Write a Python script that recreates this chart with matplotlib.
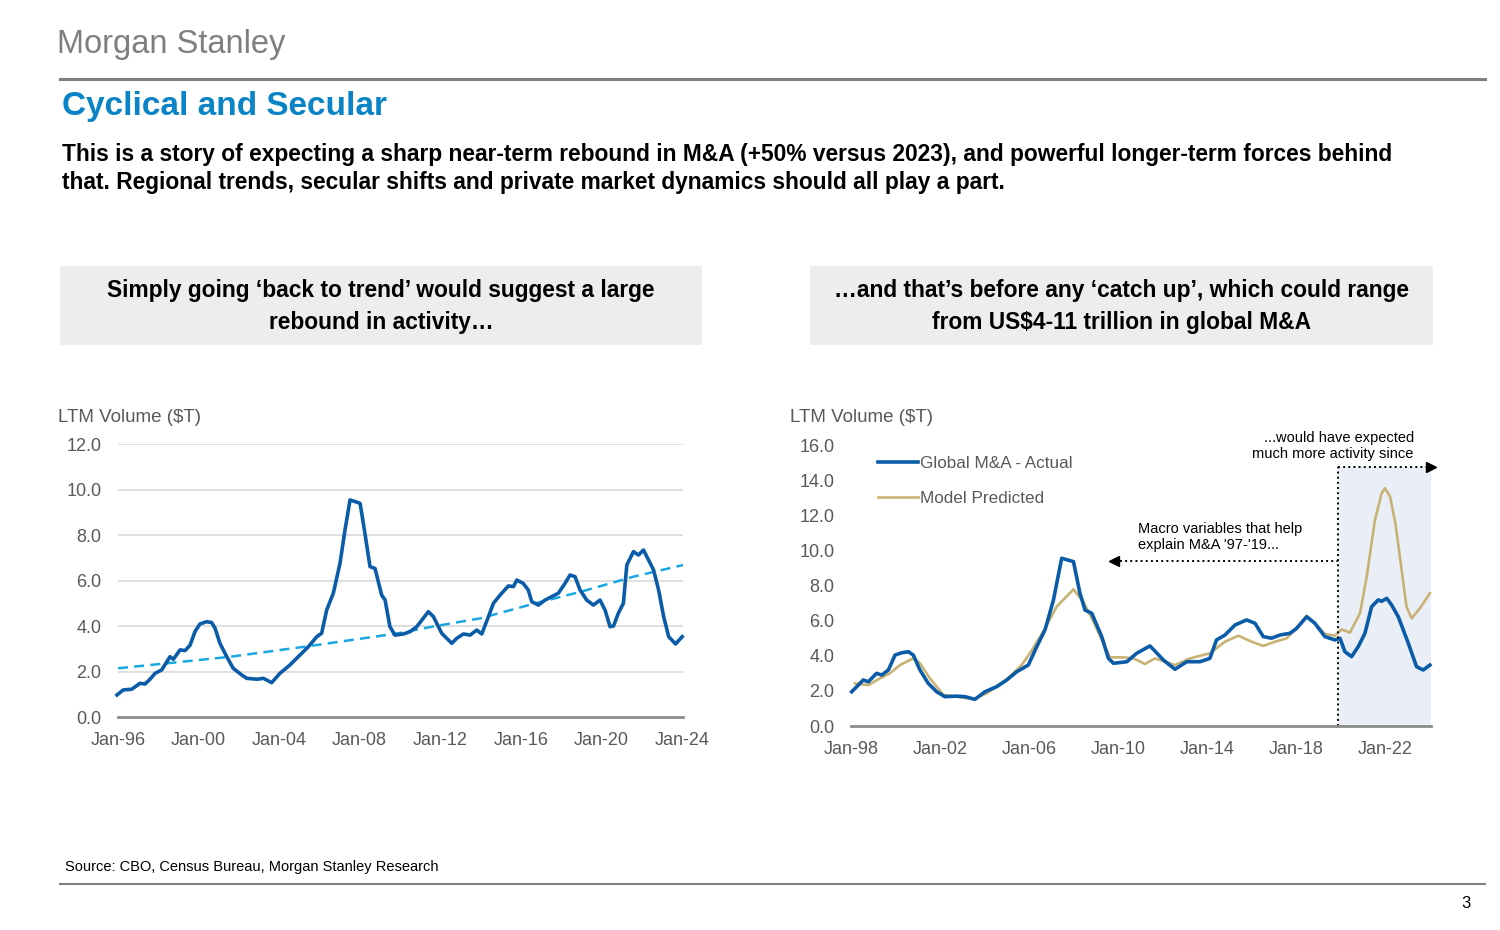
import matplotlib
matplotlib.use("Agg")
import matplotlib.pyplot as plt
from matplotlib.patches import Rectangle

plt.rcParams['font.family'] = ['Liberation Sans', 'DejaVu Sans']

# ---------------- data ----------------
# left chart: global M&A LTM volume ($T), decimal years
LEFT_T = [1995.95, 1996.26, 1996.68, 1997.09, 1997.34, 1997.59, 1997.84, 1998.17, 1998.58, 1998.75,
          1999.08, 1999.33, 1999.58, 1999.82, 2000.07, 2000.4, 2000.65, 2000.82, 2001.06, 2001.4,
          2001.72, 2002.14, 2002.39, 2002.89, 2003.22, 2003.63, 2004.04, 2004.54, 2004.95, 2005.45,
          2005.87, 2006.11, 2006.36, 2006.69, 2007.02, 2007.27, 2007.52, 2007.77, 2008.02, 2008.26,
          2008.51, 2008.76, 2009.09, 2009.26, 2009.5, 2009.75, 2010.17, 2010.5, 2010.83, 2011.41,
          2011.66, 2012.07, 2012.57, 2012.82, 2013.15, 2013.48, 2013.81, 2014.06, 2014.39, 2014.64,
          2014.97, 2015.38, 2015.63, 2015.8, 2016.12, 2016.37, 2016.54, 2016.87, 2017.2, 2017.53,
          2017.86, 2018.19, 2018.44, 2018.69, 2018.94, 2019.27, 2019.6, 2019.93, 2020.18, 2020.43,
          2020.6, 2020.84, 2021.09, 2021.26, 2021.59, 2021.84, 2022.09, 2022.34, 2022.59, 2022.84,
          2023.09, 2023.34, 2023.68, 2024.01]
LEFT_V = [0.97, 1.19, 1.22, 1.48, 1.45, 1.66, 1.92, 2.07, 2.65, 2.54,
          2.95, 2.92, 3.16, 3.75, 4.09, 4.19, 4.15, 3.90, 3.24, 2.65,
          2.14, 1.85, 1.70, 1.66, 1.70, 1.51, 1.92, 2.29, 2.65, 3.09,
          3.53, 3.68, 4.70, 5.44, 6.75, 8.22, 9.54, 9.47, 9.39, 8.07,
          6.61, 6.53, 5.36, 5.14, 3.97, 3.60, 3.65, 3.75, 3.97, 4.63,
          4.41, 3.68, 3.24, 3.46, 3.65, 3.60, 3.82, 3.65, 4.41, 5.00,
          5.36, 5.76, 5.73, 6.02, 5.87, 5.58, 5.07, 4.92, 5.14, 5.29,
          5.44, 5.87, 6.24, 6.17, 5.58, 5.14, 4.92, 5.14, 4.70, 3.97,
          4.00, 4.56, 5.00, 6.68, 7.27, 7.12, 7.34, 6.90, 6.46, 5.58,
          4.41, 3.53, 3.21, 3.53]
TREND_T = [1996.0, 2001.6, 2005.6, 2009.9, 2011.6, 2014.0, 2016.6, 2019.0, 2021.6, 2024.05]
TREND_V = [2.14, 2.65, 3.13, 3.68, 3.97, 4.34, 4.97, 5.51, 6.17, 6.68]
LEFT_TICKS = [1996, 2000, 2004, 2008, 2012, 2016, 2020, 2024]
LEFT_LABELS = ['Jan-96', 'Jan-00', 'Jan-04', 'Jan-08', 'Jan-12', 'Jan-16', 'Jan-20', 'Jan-24']

# right chart: actual vs model predicted
ACT_T = [1998.03, 1998.26, 1998.55, 1998.78, 1999.15, 1999.38, 1999.68, 1999.98, 2000.28, 2000.58,
         2000.8, 2001.1, 2001.47, 2001.85, 2002.22, 2002.75, 2003.12, 2003.57, 2004.02, 2004.55,
         2005.0, 2005.45, 2005.97, 2006.35, 2006.72, 2007.1, 2007.47, 2008.0, 2008.29, 2008.52,
         2008.82, 2009.27, 2009.57, 2009.8, 2010.4, 2010.84, 2011.44, 2012.04, 2012.56, 2013.09,
         2013.69, 2014.13, 2014.43, 2014.81, 2015.26, 2015.78, 2016.16, 2016.53, 2016.9, 2017.28,
         2017.73, 2018.03, 2018.48, 2018.85, 2019.3, 2019.75, 2019.98, 2020.2, 2020.5, 2020.8,
         2021.1, 2021.4, 2021.7, 2021.85, 2022.08, 2022.3, 2022.6, 2023.05, 2023.42, 2023.72,
         2024.02]
ACT_V = [1.95, 2.24, 2.62, 2.52, 3.00, 2.90, 3.19, 4.04, 4.17, 4.23,
         4.04, 3.19, 2.43, 1.95, 1.67, 1.70, 1.67, 1.52, 1.95, 2.24,
         2.62, 3.09, 3.47, 4.52, 5.47, 7.18, 9.55, 9.36, 7.56, 6.60,
         6.42, 5.09, 3.85, 3.57, 3.66, 4.14, 4.56, 3.76, 3.23, 3.66,
         3.66, 3.85, 4.90, 5.18, 5.75, 6.04, 5.85, 5.09, 5.00, 5.18,
         5.28, 5.56, 6.22, 5.85, 5.09, 4.90, 4.99, 4.23, 3.95, 4.52,
         5.28, 6.79, 7.18, 7.10, 7.27, 6.89, 6.22, 4.71, 3.38, 3.19,
         3.47]
MOD_T = [1998.18, 1998.78, 1999.3, 1999.75, 2000.2, 2000.8, 2001.1, 2001.55, 2002.15, 2002.75,
         2003.5, 2004.1, 2005.0, 2005.67, 2006.04, 2006.64, 2007.24, 2008.0, 2008.44, 2008.9,
         2009.27, 2009.64, 2010.24, 2010.7, 2011.21, 2011.66, 2012.56, 2013.24, 2014.13, 2014.81,
         2015.41, 2016.01, 2016.53, 2017.06, 2017.58, 2018.03, 2018.48, 2018.85, 2019.3, 2019.75,
         2020.05, 2020.43, 2020.88, 2021.18, 2021.55, 2021.85, 2022.0, 2022.23, 2022.47, 2022.75,
         2022.97, 2023.2, 2023.57, 2024.02]
MOD_V = [2.43, 2.33, 2.71, 3.00, 3.47, 3.85, 3.57, 2.71, 1.77, 1.67,
         1.52, 1.86, 2.66, 3.47, 4.14, 5.37, 6.79, 7.78, 7.08, 5.94,
         4.90, 3.91, 3.91, 3.85, 3.53, 3.85, 3.47, 3.85, 4.14, 4.80,
         5.14, 4.80, 4.56, 4.80, 4.99, 5.56, 6.28, 5.85, 5.24, 5.14,
         5.50, 5.32, 6.42, 8.50, 11.73, 13.25, 13.54, 13.06, 11.54, 8.88,
         6.79, 6.13, 6.70, 7.56]
RIGHT_TICKS = [1998, 2002, 2006, 2010, 2014, 2018, 2022]
RIGHT_LABELS = ['Jan-98', 'Jan-02', 'Jan-06', 'Jan-10', 'Jan-14', 'Jan-18', 'Jan-22']

SPLIT = 2019.9      # start of the "since" window
SINCE_TOP = 14.75
MACRO_Y = 9.4
MACRO_END = 2009.8

BLUE = '#0B5CA8'
GOLD = '#C8B273'
TREND = '#1AA7E0'
GRAY_TXT = '#595959'

W, H = 1500, 930
fig = plt.figure(figsize=(15, 9.3), dpi=100)


def fx(x):
    return x / W


def fy(y):
    return 1 - y / H


def axes_px(x0, y0, x1, y1):
    return fig.add_axes([fx(x0), fy(y1), fx(x1 - x0), (y1 - y0) / H])


# ---------------- page furniture ----------------
fig.text(fx(57), fy(45), 'Morgan Stanley', fontsize=23.5, color='#7F7F7F', va='center', ha='left')
fig.add_artist(plt.Line2D([fx(60), fx(1485)], [fy(79), fy(79)], color='#808080', lw=2.2))
fig.text(fx(62), fy(107), 'Cyclical and Secular', fontsize=24, fontweight='bold',
         color='#0A84C6', va='center', ha='left')
fig.text(fx(62), fy(154), 'This is a story of expecting a sharp near-term rebound in M&A (+50% versus 2023), '
         'and powerful longer-term forces behind', fontsize=16.4, fontweight='bold', va='center')
fig.text(fx(62), fy(182), 'that. Regional trends, secular shifts and private market dynamics should all play a part.',
         fontsize=16.4, fontweight='bold', va='center')

for (x0, x1, l1, l2) in [(60, 702, 'Simply going \u2018back to trend\u2019 would suggest a large',
                          'rebound in activity\u2026'),
                         (810, 1433, '\u2026and that\u2019s before any \u2018catch up\u2019, which could range',
                          'from US$4-11 trillion in global M&A')]:
    fig.add_artist(Rectangle((fx(x0), fy(345)), fx(x1 - x0), (345 - 266) / H,
                             facecolor='#EDEDED', edgecolor='none'))
    cx = fx((x0 + x1) / 2)
    fig.text(cx, fy(290), l1, fontsize=16.4, fontweight='bold', ha='center', va='center')
    fig.text(cx, fy(322), l2, fontsize=16.4, fontweight='bold', ha='center', va='center')

fig.text(fx(58), fy(418), 'LTM Volume ($T)', fontsize=13.5, color=GRAY_TXT, va='center')
fig.text(fx(790), fy(418), 'LTM Volume ($T)', fontsize=13.5, color=GRAY_TXT, va='center')

fig.text(fx(65), fy(867), 'Source: CBO, Census Bureau, Morgan Stanley Research', fontsize=10.5, va='center')
fig.add_artist(plt.Line2D([fx(60), fx(1485)], [fy(884), fy(884)], color='#808080', lw=1.5))
fig.text(fx(1471), fy(903), '3', fontsize=12, ha='right', va='center')

# ---------------- left chart ----------------
ax1 = axes_px(118, 444, 683, 717)
ax1.set_xlim(1996.0, 2024.05)
ax1.set_ylim(0, 12)
ax1.set_yticks([0, 2, 4, 6, 8, 10, 12])
ax1.set_yticklabels([f'{v:.1f}' for v in [0, 2, 4, 6, 8, 10, 12]])
ax1.set_xticks(LEFT_TICKS)
ax1.set_xticklabels(LEFT_LABELS)
for v in [2, 4, 6, 8, 10, 12]:
    ax1.axhline(v, color='#D9D9D9', lw=1.2, zorder=0)
ax1.plot(TREND_T, TREND_V, color=TREND, lw=1.8, ls=(0, (4, 2.5)), zorder=3)
ax1.plot(LEFT_T, LEFT_V, color=BLUE, lw=2.6, zorder=4, solid_joinstyle='round', clip_on=False)

# ---------------- right chart ----------------
ax2 = axes_px(851, 445, 1431, 726)
ax2.set_xlim(1998.0, 2024.07)
ax2.set_ylim(0, 16)
ax2.set_yticks([0, 2, 4, 6, 8, 10, 12, 14, 16])
ax2.set_yticklabels([f'{v:.1f}' for v in [0, 2, 4, 6, 8, 10, 12, 14, 16]])
ax2.set_xticks(RIGHT_TICKS)
ax2.set_xticklabels(RIGHT_LABELS)
ax2.axvspan(SPLIT, 2024.07, ymin=0, ymax=SINCE_TOP / 16, color='#E9EEF7', lw=0, zorder=0)
ax2.plot(ACT_T, ACT_V, color=BLUE, lw=2.6, zorder=4, label='Global M&A - Actual',
         solid_joinstyle='round', clip_on=False)
ax2.plot(MOD_T, MOD_V, color=GOLD, lw=1.9, zorder=3, label='Model Predicted', clip_on=False)

# annotations
ax2.plot([SPLIT, SPLIT], [0, SINCE_TOP], color='black', lw=1.4, ls=':', zorder=5, clip_on=False)
ax2.plot([SPLIT, 2024.0], [SINCE_TOP, SINCE_TOP], color='black', lw=1.4, ls=':', zorder=5, clip_on=False)
ax2.plot([2024.05], [SINCE_TOP], marker='>', color='black', ms=7, zorder=6, clip_on=False)
ax2.plot([MACRO_END + 0.3, SPLIT], [MACRO_Y, MACRO_Y], color='black', lw=1.4, ls=':', zorder=5)
ax2.plot([MACRO_END], [MACRO_Y], marker='<', color='black', ms=7, zorder=6)
ax2.text(2010.9, 10.75, "Macro variables that help\nexplain M&A '97-'19...", fontsize=10.5,
         ha='left', va='center', linespacing=1.15)
ax2.text(2023.3, 15.95, '...would have expected\nmuch more activity since', fontsize=10.5,
         ha='right', va='center', linespacing=1.15, clip_on=False)

leg = ax2.legend(loc='upper left', bbox_to_anchor=(0.035, 0.985), frameon=False, fontsize=12.3,
                 handlelength=2.35, handletextpad=0.1, labelspacing=1.15, borderaxespad=0)
for t in leg.get_texts():
    t.set_color(GRAY_TXT)

for ax in (ax1, ax2):
    for s in ('top', 'right', 'left'):
        ax.spines[s].set_visible(False)
    ax.spines['bottom'].set_color('#8C8C8C')
    ax.spines['bottom'].set_linewidth(2)
    ax.spines['bottom'].set_zorder(6)
    ax.tick_params(axis='both', length=0, labelsize=13, labelcolor=GRAY_TXT)
    ax.tick_params(axis='y', pad=12)
    ax.tick_params(axis='x', pad=11)
    ax.set_facecolor('none')

fig.savefig('out.png', dpi=100)
